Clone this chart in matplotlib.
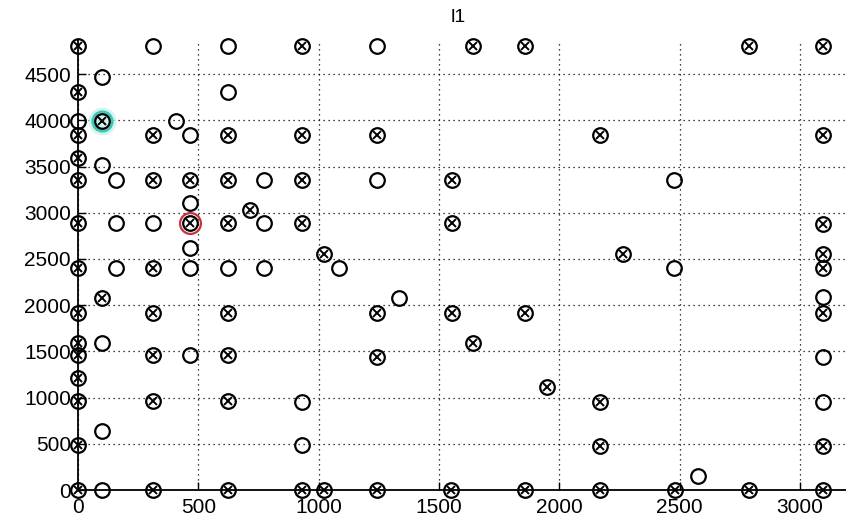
import matplotlib
matplotlib.use("Agg")
import matplotlib.pyplot as plt

# crossed circles (circle with an x inside)
cross_x = [0, 0, 0, 0, 0, 0, 0, 0, 0, 0, 0, 0, 0, 0,
           100, 100,
           312, 312, 312, 312, 312, 312, 312,
           466, 466,
           624, 624, 624, 624, 624, 624, 624,
           715,
           932, 932, 932, 932, 932,
           1024, 1024,
           1243, 1243, 1243, 1243,
           1642, 1555, 1555, 1555, 1550,
           1642,
           1858, 1858, 1858,
           1950,
           2170, 2170, 2170, 2170,
           2267,
           2482,
           2789, 2789,
           3097, 3097, 3097, 3097, 3097, 3097, 3097, 3097]
cross_y = [4800, 4310, 3840, 3590, 3355, 2890, 2400, 1915, 1590, 1460, 1210, 960, 487, 0,
           3990, 2080,
           3840, 3355, 2400, 1915, 1460, 960, 0,
           3355, 2890,
           3840, 3355, 2890, 1915, 1460, 960, 0,
           3030,
           4800, 3840, 3355, 2890, 0,
           2550, 0,
           3840, 1915, 1440, 0,
           4800, 3355, 2890, 1915, 0,
           1590,
           4800, 1915, 0,
           1115,
           3840, 950, 480, 0,
           2550,
           0,
           4800, 0,
           4800, 3840, 2880, 2550, 2400, 1915, 480, 0]

# open circles
open_x = [312, 624, 1243,
          100, 624, 0, 408, 466, 100,
          158, 775, 1243, 2478,
          466, 158, 312, 775,
          466, 158, 466, 624, 775, 1086, 2478,
          1334, 3097, 100, 466, 3097,
          932, 3097, 100, 932, 2575, 100]
open_y = [4800, 4800, 4800,
          4470, 4310, 3990, 3990, 3840, 3515,
          3355, 3355, 3355, 3355,
          3105, 2890, 2890, 2890,
          2620, 2400, 2400, 2400, 2400, 2400, 2400,
          2080, 2090, 1590, 1460, 1440,
          950, 950, 640, 487, 150, 0]

# highlighted points
cyan_pt = (100, 3990)
red_pt = (466, 2890)

x_ticks = [0, 500, 1000, 1500, 2000, 2500, 3000]
y_ticks = [0, 500, 1000, 1500, 2000, 2500, 3000, 3500, 4000, 4500]
title_text = "l1"

W, H = 846, 526
fig = plt.figure(figsize=(W / 100, H / 100), dpi=100)
fig.patch.set_facecolor("white")
ax = fig.add_axes([78 / W, (H - 490) / H, (W - 78) / W, (490 - 40) / H])
ax.set_xlim(0, 3192)
ax.set_ylim(0, 4870)

ax.plot(open_x, open_y, linestyle="none", marker="o", markersize=10.5,
        markerfacecolor="none", markeredgecolor="black", markeredgewidth=1.6,
        clip_on=False, zorder=3)
ax.plot(cross_x, cross_y, linestyle="none", marker="o", markersize=10.5,
        markerfacecolor="none", markeredgecolor="black", markeredgewidth=1.6,
        clip_on=False, zorder=3)
ax.plot(cross_x, cross_y, linestyle="none", marker="x", markersize=5.5,
        markeredgecolor="black", markeredgewidth=1.4,
        clip_on=False, zorder=3)

# highlights
ax.plot([cyan_pt[0]], [cyan_pt[1]], linestyle="none", marker="o", markersize=20,
        markerfacecolor="#c8f4ee", markeredgecolor="none", alpha=0.8, zorder=2)
ax.plot([cyan_pt[0]], [cyan_pt[1]], linestyle="none", marker="o", markersize=14,
        markerfacecolor="none", markeredgecolor="#3cc8b4", markeredgewidth=2, zorder=2.5)
ax.plot([red_pt[0]], [red_pt[1]], linestyle="none", marker="o", markersize=15,
        markerfacecolor="none", markeredgecolor="#c83040", markeredgewidth=1.6, zorder=4)

ax.set_xticks(x_ticks)
ax.set_yticks(y_ticks)
ax.set_xticklabels([str(v) for v in x_ticks])
ax.set_yticklabels([str(v) for v in y_ticks])
ax.grid(True, color="black", linestyle=(0, (1, 3)), linewidth=0.9)
ax.set_axisbelow(True)
for s in ["top", "right"]:
    ax.spines[s].set_visible(False)
for s in ["left", "bottom"]:
    ax.spines[s].set_linewidth(1.3)
ax.tick_params(direction="in", length=6, width=1, labelsize=15)
ax.tick_params(axis="x", pad=6)
ax.tick_params(axis="y", pad=5)
for lab in ax.get_xticklabels() + ax.get_yticklabels():
    lab.set_fontfamily("Liberation Sans")

fig.text(458 / W, 1 - 18 / H, title_text, ha="center", va="center",
         fontsize=14, family="Liberation Sans")

fig.savefig("out.png", dpi=100, facecolor="white")
